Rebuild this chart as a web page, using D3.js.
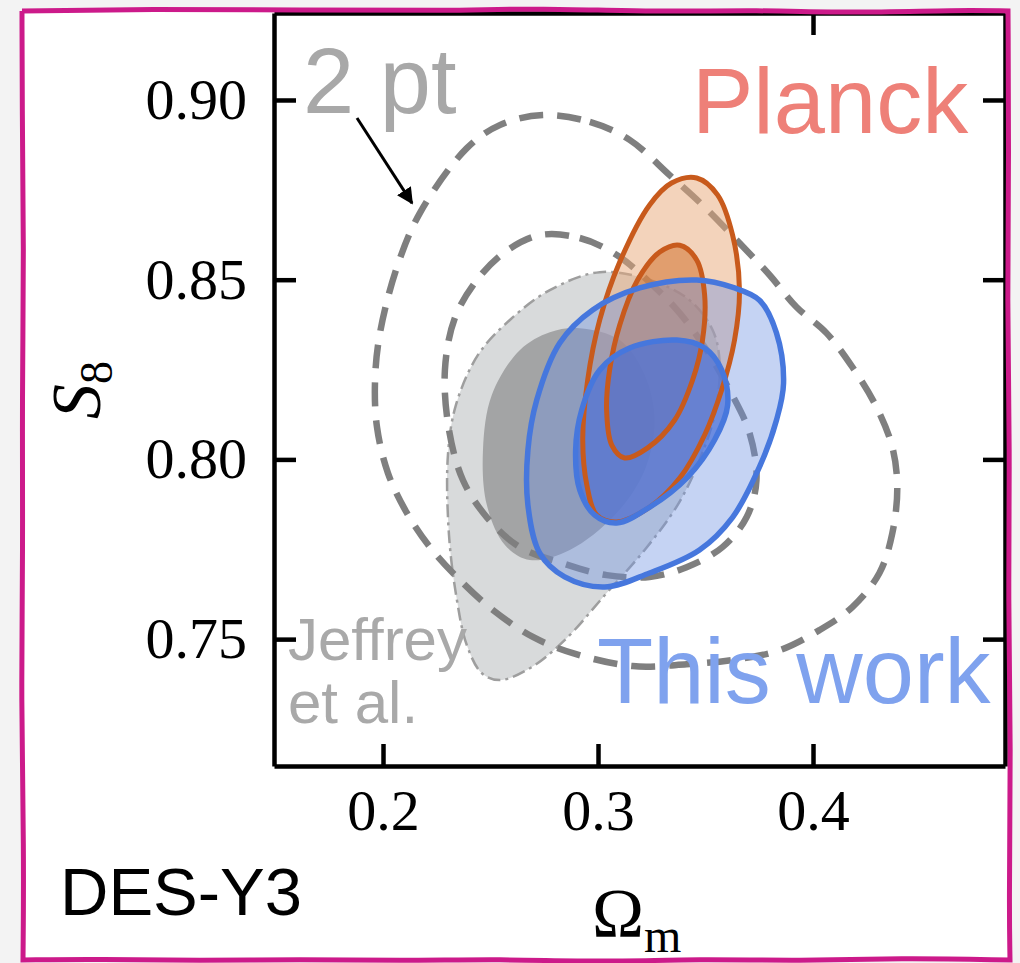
<!DOCTYPE html>
<html>
<head>
<meta charset="utf-8">
<script src="https://cdn.jsdelivr.net/npm/d3@7"></script>
<style>
  html, body { margin: 0; padding: 0; background: #f3f3f3; }
  svg { display: block; }
</style>
</head>
<body>
<svg id="chart" width="1020" height="963"></svg>
<script>
// ---- Data: confidence contours in the (Ωm, S8) plane, as [Ωm, S8] ----

// 2pt (dashed): 68% and 95% levels
const twoPtInner = [
  [0.2729,0.8624],[0.2915,0.8616],[0.3087,0.8569],[0.3254,0.8485],[0.3380,0.8407],
  [0.3505,0.8304],[0.3612,0.8193],[0.3705,0.8073],[0.3737,0.7942],[0.3691,0.7839],
  [0.3579,0.7756],[0.3412,0.7700],[0.3240,0.7673],[0.3040,0.7678],[0.2836,0.7711],
  [0.2636,0.7756],[0.2483,0.7839],[0.2372,0.7942],[0.2307,0.8082],[0.2288,0.8249],
  [0.2334,0.8393],[0.2437,0.8499],[0.2567,0.8577]
];
const twoPtOuter = [
  [0.2743,0.8958],[0.2962,0.8939],[0.3147,0.8889],[0.3333,0.8791],[0.3496,0.8702],
  [0.3658,0.8602],[0.3798,0.8513],[0.3923,0.8424],[0.4062,0.8352],[0.4183,0.8257],
  [0.4295,0.8146],[0.4369,0.8034],[0.4392,0.7923],[0.4369,0.7795],[0.4309,0.7684],
  [0.4183,0.7589],[0.4030,0.7525],[0.3844,0.7469],[0.3626,0.7442],[0.3412,0.7430],
  [0.3161,0.7425],[0.2883,0.7461],[0.2697,0.7506],[0.2511,0.7581],[0.2358,0.7664],
  [0.2218,0.7756],[0.2111,0.7851],[0.2023,0.7962],[0.1972,0.8090],[0.1963,0.8221],
  [0.1986,0.8352],[0.2065,0.8535],[0.2172,0.8686],[0.2390,0.8866],[0.2543,0.8930]
];

// Jeffrey et al. (grey filled)
const jeffreyInner = [
  [0.2915,0.8365],[0.3101,0.8332],[0.3217,0.8235],[0.3263,0.8109],[0.3217,0.7970],
  [0.3078,0.7845],[0.2869,0.7748],[0.2683,0.7720],[0.2567,0.7762],[0.2483,0.7873],
  [0.2465,0.8026],[0.2506,0.8179],[0.2636,0.8304],[0.2776,0.8354]
];
const jeffreyOuter = [
  [0.3008,0.8521],[0.3240,0.8499],[0.3426,0.8443],[0.3533,0.8360],[0.3565,0.8276],
  [0.3547,0.8137],[0.3472,0.7998],[0.3370,0.7873],[0.3217,0.7748],[0.3031,0.7622],
  [0.2845,0.7497],[0.2683,0.7419],[0.2543,0.7386],[0.2460,0.7405],[0.2390,0.7483],
  [0.2344,0.7608],[0.2307,0.7789],[0.2302,0.8012],[0.2339,0.8151],[0.2441,0.8290],
  [0.2590,0.8388],[0.2776,0.8471]
];

// Planck (orange)
const planckInner = [
  [0.3380,0.8596],[0.3459,0.8555],[0.3496,0.8457],[0.3486,0.8332],[0.3440,0.8221],
  [0.3356,0.8109],[0.3231,0.8032],[0.3124,0.8004],[0.3064,0.8040],[0.3040,0.8137],
  [0.3054,0.8249],[0.3101,0.8374],[0.3184,0.8499],[0.3287,0.8577]
];
const planckOuter = [
  [0.3459,0.8783],[0.3556,0.8736],[0.3626,0.8624],[0.3658,0.8471],[0.3635,0.8332],
  [0.3575,0.8193],[0.3496,0.8068],[0.3380,0.7948],[0.3240,0.7867],[0.3087,0.7826],
  [0.2994,0.7845],[0.2948,0.7929],[0.2929,0.8054],[0.2952,0.8221],[0.3008,0.8388],
  [0.3101,0.8549],[0.3240,0.8708],[0.3342,0.8769]
];

// This work (blue)
const thisWorkInner = [
  [0.3366,0.8332],[0.3496,0.8310],[0.3575,0.8249],[0.3603,0.8151],[0.3542,0.8054],
  [0.3417,0.7951],[0.3240,0.7867],[0.3087,0.7823],[0.2985,0.7845],[0.2915,0.7915],
  [0.2896,0.8026],[0.2924,0.8137],[0.3008,0.8249],[0.3147,0.8310]
];
const thisWorkOuter = [
  [0.3459,0.8499],[0.3635,0.8477],[0.3751,0.8443],[0.3830,0.8352],[0.3863,0.8212],
  [0.3830,0.8109],[0.3751,0.7979],[0.3626,0.7839],[0.3472,0.7748],[0.3240,0.7684],
  [0.3031,0.7645],[0.2845,0.7673],[0.2729,0.7739],[0.2674,0.7873],[0.2674,0.8026],
  [0.2715,0.8165],[0.2822,0.8324],[0.2975,0.8416],[0.3194,0.8477]
];

// Axes
const xDomain = [0.1493, 0.4893];
const yDomain = [0.7147, 0.9242];
const xTicks = [0.2, 0.3, 0.4];
const xTickLabels = ["0.2", "0.3", "0.4"];
const yTicks = [0.75, 0.80, 0.85, 0.90];
const yTickLabels = ["0.75", "0.80", "0.85", "0.90"];
const topTicks = [0.4];

// Annotation arrow for the "2 pt" label, [Ωm, S8]
const arrowFrom = [0.1879, 0.8950];
const arrowTo = [0.2135, 0.8713];

// ---- Drawing ----
const W = 1020, H = 963;
const svg = d3.select("#chart");
const plot = { left: 274, right: 1005, top: 13, bottom: 766 };

const x = d3.scaleLinear().domain(xDomain).range([plot.left, plot.right]);
const y = d3.scaleLinear().domain(yDomain).range([plot.bottom, plot.top]);

// page background and hand-drawn frame (corners repeated so they stay sharp)
svg.append("rect").attr("width", W).attr("height", H).attr("fill", "#f3f3f3");
const TL = [22,11], TR = [1008,11], BR = [1010,960], BL = [23,960];
const framePts = [
  TL, TL, TL,
  [150,9],[300,10],[450,11],[540,8],[650,12],[760,10],[850,13],[960,10],
  TR, TR, TR,
  [1009,150],[1007,300],[1010,450],[1008,600],[1011,750],[1009,900],
  BR, BR, BR,
  [900,958],[800,961],[700,959],[600,962],[500,959],[400,961],[300,959],[200,961],[100,959],
  BL, BL, BL,
  [24,850],[21,700],[23,550],[22,400],[24,250],[22,100]
];
const frameLine = d3.line().curve(d3.curveBasisClosed);
svg.append("path").attr("d", frameLine(framePts)).attr("fill", "#ffffff");

const contour = d3.line()
  .x(d => x(d[0]))
  .y(d => y(d[1]))
  .curve(d3.curveCatmullRomClosed.alpha(0.5));

const g = svg.append("g");

// Jeffrey et al. fills and dash-dot outline
g.append("path").attr("d", contour(jeffreyOuter)).attr("fill", "#d8dadb");
g.append("path").attr("d", contour(jeffreyInner)).attr("fill", "#a3a4a5");
g.append("path").attr("d", contour(jeffreyOuter))
  .attr("fill", "none").attr("stroke", "#9e9e9e").attr("stroke-width", 2.5)
  .attr("stroke-dasharray", "13,5,3,5");

// 2pt dashed contours
[twoPtOuter, twoPtInner].forEach(c => {
  g.append("path").attr("d", contour(c))
    .attr("fill", "none").attr("stroke", "#7f7f7f").attr("stroke-width", 6.5)
    .attr("stroke-dasharray", "24,14");
});

// Planck fills
g.append("path").attr("d", contour(planckOuter)).attr("fill", "#e8a878").attr("fill-opacity", 0.5);
g.append("path").attr("d", contour(planckInner)).attr("fill", "#d2732f").attr("fill-opacity", 0.55);

// This work fills
g.append("path").attr("d", contour(thisWorkOuter)).attr("fill", "#6f92e0").attr("fill-opacity", 0.4);
g.append("path").attr("d", contour(thisWorkInner)).attr("fill", "#4a70d8").attr("fill-opacity", 0.72);

// outlines
[planckOuter, planckInner].forEach(c => {
  g.append("path").attr("d", contour(c))
    .attr("fill", "none").attr("stroke", "#c85a1c").attr("stroke-width", 5);
});
[thisWorkOuter, thisWorkInner].forEach(c => {
  g.append("path").attr("d", contour(c))
    .attr("fill", "none").attr("stroke", "#4677dd").attr("stroke-width", 5.5);
});

// axes: ticks pointing inward
const tickFont = "'Liberation Serif', 'Times New Roman', serif";
function styleAxis(sel) {
  sel.select(".domain").attr("stroke", "#000").attr("stroke-width", 4.5);
  sel.selectAll(".tick line").attr("stroke", "#000").attr("stroke-width", 4.5);
  sel.selectAll(".tick text")
    .attr("fill", "#000")
    .style("font-family", tickFont)
    .style("font-size", "58px");
}
svg.append("g").attr("transform", `translate(${plot.left},0)`)
  .call(d3.axisLeft(y).tickValues(yTicks).tickFormat((d, i) => yTickLabels[i])
    .tickSizeInner(-22).tickSizeOuter(0).tickPadding(27))
  .call(styleAxis);
svg.append("g").attr("transform", `translate(${plot.right},0)`)
  .call(d3.axisRight(y).tickValues(yTicks).tickFormat("")
    .tickSizeInner(-22).tickSizeOuter(0))
  .call(styleAxis);
svg.append("g").attr("transform", `translate(0,${plot.bottom})`)
  .call(d3.axisBottom(x).tickValues(xTicks).tickFormat((d, i) => xTickLabels[i])
    .tickSizeInner(-22).tickSizeOuter(0).tickPadding(23))
  .call(styleAxis);
svg.append("g").attr("transform", `translate(0,${plot.top})`)
  .call(d3.axisTop(x).tickValues(topTicks).tickFormat("")
    .tickSizeInner(-22).tickSizeOuter(0))
  .call(styleAxis);

// axis titles
const xTitle = svg.append("text")
  .attr("x", 592).attr("y", 937)
  .style("font-family", tickFont).style("font-size", "70px").attr("fill", "#000");
xTitle.append("tspan").text("Ω");
xTitle.append("tspan").attr("dy", 15).style("font-size", "48px").text("m");

const yTitle = svg.append("text")
  .attr("transform", "translate(100,390) rotate(-90)")
  .attr("text-anchor", "middle")
  .style("font-family", tickFont).style("font-size", "70px").attr("fill", "#000");
yTitle.append("tspan").style("font-style", "italic").text("S");
yTitle.append("tspan").attr("dy", 12).style("font-size", "46px").text("8");

// labels
const sans = "'Liberation Sans', Arial, Helvetica, sans-serif";
function label(txt, px, py, size, color) {
  svg.append("text").attr("x", px).attr("y", py)
    .style("font-family", sans).style("font-size", size + "px")
    .attr("fill", color).text(txt);
}
label("2 pt", 303, 113, 92, "#a8a8a8");
label("Planck", 692, 133, 92, "#ee8078");
label("This work", 597, 703, 92, "#7fa2ee");
label("Jeffrey", 288, 660, 60, "#a9a9a9");
label("et al.", 288, 723, 60, "#a9a9a9");
label("DES-Y3", 60, 915, 67, "#000000");

// arrow from the "2 pt" label to the outer dashed contour
const defs = svg.append("defs");
defs.append("marker").attr("id", "arrowhead")
  .attr("viewBox", "0 0 10 10").attr("refX", 9).attr("refY", 5)
  .attr("markerWidth", 5.5).attr("markerHeight", 5.5).attr("orient", "auto")
  .append("path").attr("d", "M0,0L10,5L0,10z").attr("fill", "#000");
svg.append("line")
  .attr("x1", x(arrowFrom[0])).attr("y1", y(arrowFrom[1]))
  .attr("x2", x(arrowTo[0])).attr("y2", y(arrowTo[1]))
  .attr("stroke", "#000").attr("stroke-width", 3)
  .attr("marker-end", "url(#arrowhead)");

// frame outline on top
svg.append("path").attr("d", frameLine(framePts))
  .attr("fill", "none").attr("stroke", "#cc1a8a").attr("stroke-width", 5);
</script>
</body>
</html>
